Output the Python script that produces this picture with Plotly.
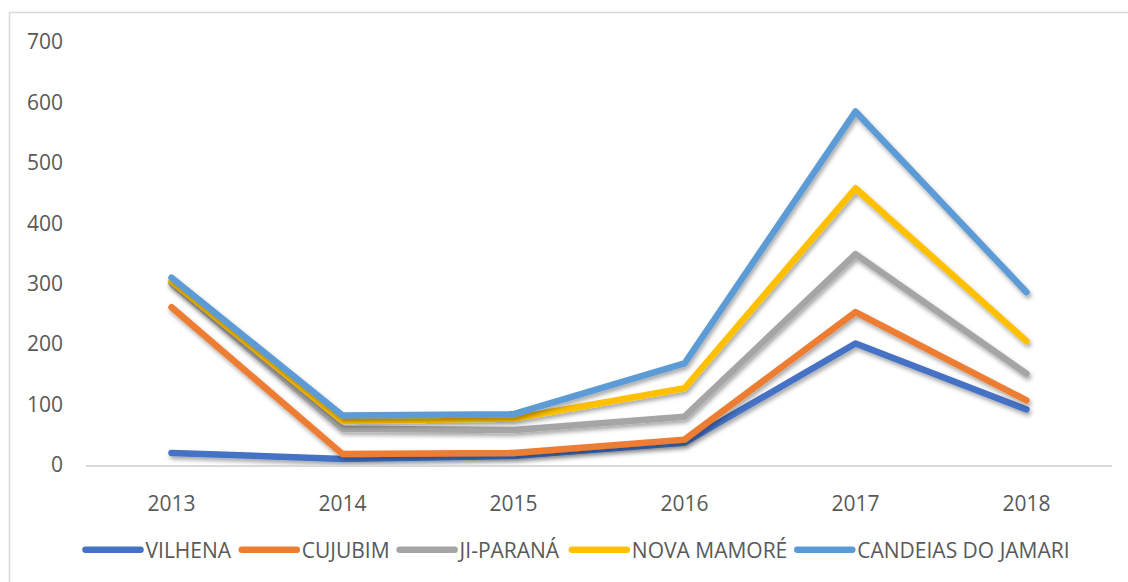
import plotly.graph_objects as go

# Annual counts per municipality (lines are stacked: each line sits on top of the previous ones)
years = ["2013", "2014", "2015", "2016", "2017", "2018"]
vilhena = [20, 10, 15, 37, 201, 92]
cujubim = [241, 8, 5, 5, 52, 15]
ji_parana = [40, 42, 38, 38, 96, 44]
nova_mamore = [3, 13, 19, 47, 109, 54]
candeias = [6, 9, 7, 41, 127, 81]

series_names = ["VILHENA", "CUJUBIM", "JI-PARANÁ", "NOVA MAMORÉ", "CANDEIAS DO JAMARI"]
series_values = [vilhena, cujubim, ji_parana, nova_mamore, candeias]
series_colors = ["#4472C4", "#ED7D31", "#A5A5A5", "#FFC000", "#5B9BD5"]

FONT = "Open Sans"
TEXT_COLOR = "#595959"

fig = go.Figure()
for name, vals, color in zip(series_names, series_values, series_colors):
    fig.add_trace(go.Scatter(
        x=years, y=vals, name=name, mode="lines",
        stackgroup="total", fill="none",
        line=dict(color=color, width=6.5),
        hoverinfo="x+y+name",
    ))

# plot area in pixels
W, H = 1128, 582
L, R, T, B = 86, 16, 42, 117
pw, ph = W - L - R, H - T - B

def px_x(x):
    return (x - L) / pw

def px_y(y):
    return (H - B - y) / ph

fig.update_layout(
    width=W, height=H,
    margin=dict(l=L, r=R, t=T, b=B),
    paper_bgcolor="white", plot_bgcolor="white",
    font=dict(family=FONT, size=21, color=TEXT_COLOR),
    showlegend=True,
    legend=dict(
        orientation="h",
        x=px_x(578), xanchor="center",
        y=px_y(550), yanchor="middle",
        font=dict(family=FONT, size=21, color=TEXT_COLOR),
        itemwidth=55,
        tracegroupgap=0,
        traceorder="normal",
    ),
    xaxis=dict(
        type="category", range=[-0.5, 5.5],
        showgrid=False, zeroline=False,
        showline=True, linecolor="#D9D9D9", linewidth=1.5,
        ticks="", ticklabelstandoff=19,
        tickfont=dict(family=FONT, size=21, color=TEXT_COLOR),
        fixedrange=True,
    ),
    yaxis=dict(
        range=[0, 700], tickvals=[0, 100, 200, 300, 400, 500, 600, 700],
        showgrid=False, zeroline=False, showline=False,
        ticks="", ticklabelstandoff=22,
        tickfont=dict(family=FONT, size=21, color=TEXT_COLOR),
        fixedrange=True,
    ),
    shapes=[dict(
        type="rect", xref="paper", yref="paper",
        x0=px_x(9.5), x1=px_x(1160), y0=px_y(620), y1=px_y(12.5),
        line=dict(color="#D9D9D9", width=1.5), fillcolor="rgba(0,0,0,0)",
        layer="below",
    )],
)

# soft drop shadow and rounded ends on the series lines
shadow_js = """
var gd = document.getElementById('{plot_id}');
function addShadow() {
  var svg = gd.querySelector('svg.main-svg');
  var ns = 'http://www.w3.org/2000/svg';
  if (!document.getElementById('lineshadow')) {
    var defs = svg.querySelector('defs') || svg.insertBefore(document.createElementNS(ns, 'defs'), svg.firstChild);
    var f = document.createElementNS(ns, 'filter');
    f.setAttribute('id', 'lineshadow');
    f.setAttribute('filterUnits', 'userSpaceOnUse');
    f.setAttribute('x', '-2000'); f.setAttribute('y', '-2000');
    f.setAttribute('width', '6000'); f.setAttribute('height', '6000');
    var ds = document.createElementNS(ns, 'feDropShadow');
    ds.setAttribute('dx', '1.5'); ds.setAttribute('dy', '3');
    ds.setAttribute('stdDeviation', '2');
    ds.setAttribute('flood-color', '#000');
    ds.setAttribute('flood-opacity', '0.35');
    f.appendChild(ds);
    defs.appendChild(f);
  }
  gd.querySelectorAll('.scatterlayer .js-line').forEach(function (p) {
    p.setAttribute('filter', 'url(#lineshadow)');
    p.style.strokeLinecap = 'round';
    p.style.strokeLinejoin = 'round';
  });
  gd.querySelectorAll('.legend .js-line').forEach(function (p) {
    p.style.strokeLinecap = 'round';
  });
}
addShadow();
gd.on('plotly_afterplot', addShadow);
"""

fig.write_html("out.html", post_script=shadow_js, config={"displayModeBar": False})
